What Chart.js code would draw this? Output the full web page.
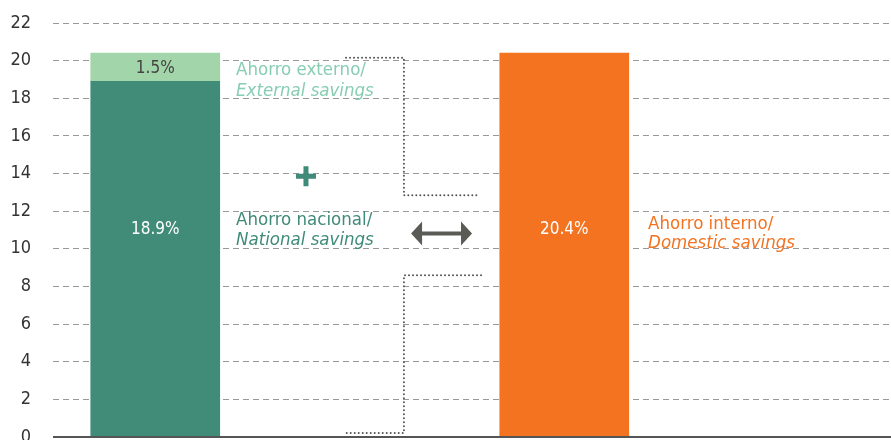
<!DOCTYPE html>
<html>
<head>
<meta charset="utf-8">
<script src="https://cdn.jsdelivr.net/npm/chart.js@4/dist/chart.umd.min.js"></script>
<style>
  html, body { margin: 0; padding: 0; background: #fff; overflow: hidden; }
  #wrap { width: 891px; height: 460px; }
</style>
</head>
<body>
<div id="wrap"><canvas id="chart"></canvas></div>
<script>
// data
const categories = ['Ahorro nacional + externo', 'Ahorro interno'];
const categoryPos = [0.5, 2.5];
const nationalSavings = [18.9, null];
const externalSavings = [1.5, null];
const domesticSavings = [null, 20.4];
const yTicks = [0, 2, 4, 6, 8, 10, 12, 14, 16, 18, 20, 22];

const FONT = "'Liberation Sans Narrow', 'DejaVu Sans Condensed', 'Roboto', sans-serif";

const toPoints = (values) => values
  .map((v, i) => (v === null ? null : { x: categoryPos[i], y: v }))
  .filter((p) => p !== null);

// labels inside the bars (tall bars share one label height)
const valueLabels = {
  id: 'valueLabels',
  afterDatasetsDraw(chart) {
    const ctx = chart.ctx;
    const ys = chart.scales.y;
    ctx.save();
    ctx.font = '17px ' + FONT;
    ctx.textAlign = 'center';
    ctx.textBaseline = 'middle';
    chart.data.datasets.forEach((ds, di) => {
      chart.getDatasetMeta(di).data.forEach((bar, i) => {
        const y = ds.labelAt ? ys.getPixelForValue(ds.labelAt) : (bar.y + bar.base) / 2 + 1;
        ctx.fillStyle = ds.labelColor;
        ctx.fillText(ds.data[i].y.toFixed(1) + '%', bar.x, y);
      });
    });
    ctx.restore();
  }
};

// annotations: texts, plus sign, arrow, dotted brackets, baseline
const annotations = {
  id: 'annotations',
  afterDraw(chart) {
    const ctx = chart.ctx;
    const xs = chart.scales.x;
    const ys = chart.scales.y;
    const X = (v) => xs.getPixelForValue(v);
    const Y = (v) => ys.getPixelForValue(v);
    const area = chart.chartArea;

    ctx.save();
    // baseline
    ctx.strokeStyle = '#555';
    ctx.lineWidth = 2;
    ctx.beginPath();
    ctx.moveTo(area.left, Y(0));
    ctx.lineTo(area.right, Y(0));
    ctx.stroke();

    // texts
    const texts = [
      { t: 'Ahorro externo/', x: 0.895, y: 19.47, c: '#86CDB3', i: false },
      { t: 'External savings', x: 0.895, y: 18.36, c: '#86CDB3', i: true },
      { t: 'Ahorro nacional/', x: 0.895, y: 11.51, c: '#3F8A78', i: false },
      { t: 'National savings', x: 0.895, y: 10.45, c: '#3F8A78', i: true },
      { t: 'Ahorro interno/', x: 2.91, y: 11.33, c: '#F37321', i: false },
      { t: 'Domestic savings', x: 2.91, y: 10.29, c: '#F37321', i: true }
    ];
    ctx.textAlign = 'left';
    ctx.textBaseline = 'middle';
    texts.forEach((o) => {
      ctx.font = (o.i ? 'italic ' : '') + '18.5px ' + FONT;
      ctx.fillStyle = o.c;
      ctx.fillText(o.t, X(o.x), Y(o.y));
    });

    // plus sign
    const px = X(1.237), py = Y(13.85);
    ctx.strokeStyle = '#3F8A78';
    ctx.lineWidth = 5;
    ctx.lineCap = 'butt';
    ctx.beginPath();
    ctx.moveTo(px - 10, py); ctx.lineTo(px + 10, py);
    ctx.moveTo(px, py - 10); ctx.lineTo(px, py + 10);
    ctx.stroke();

    // double arrow
    const ax1 = X(1.751), ax2 = X(2.049), ay = Y(10.82);
    ctx.fillStyle = '#5B5B56';
    ctx.strokeStyle = '#5B5B56';
    ctx.lineWidth = 4;
    ctx.beginPath();
    ctx.moveTo(ax1 + 8, ay); ctx.lineTo(ax2 - 8, ay);
    ctx.stroke();
    ctx.beginPath();
    ctx.moveTo(ax1, ay); ctx.lineTo(ax1 + 11, ay - 12); ctx.lineTo(ax1 + 11, ay + 12); ctx.closePath();
    ctx.moveTo(ax2, ay); ctx.lineTo(ax2 - 11, ay - 12); ctx.lineTo(ax2 - 11, ay + 12); ctx.closePath();
    ctx.fill();

    // dotted brackets
    ctx.strokeStyle = '#555';
    ctx.lineWidth = 2;
    ctx.lineCap = 'round';
    ctx.setLineDash([0, 4]);
    ctx.beginPath();
    ctx.moveTo(X(1.433), Y(20.16));
    ctx.lineTo(X(1.716), Y(20.16));
    ctx.lineTo(X(1.716), Y(12.84));
    ctx.lineTo(X(2.078), Y(12.84));
    ctx.moveTo(X(2.093), Y(8.59));
    ctx.lineTo(X(1.716), Y(8.59));
    ctx.lineTo(X(1.716), Y(0.21));
    ctx.lineTo(X(1.433), Y(0.21));
    ctx.stroke();
    ctx.restore();
  }
};

new Chart(document.getElementById('chart'), {
  type: 'bar',
  data: {
    datasets: [
      { label: 'Ahorro nacional', data: toPoints(nationalSavings), backgroundColor: '#418B79', labelColor: '#ffffff', labelAt: 11.03 },
      { label: 'Ahorro externo', data: toPoints(externalSavings), backgroundColor: '#A3D5AA', labelColor: '#444444' },
      { label: 'Ahorro interno', data: toPoints(domesticSavings), backgroundColor: '#F37321', labelColor: '#ffffff', labelAt: 11.03 }
    ]
  },
  options: {
    responsive: true,
    maintainAspectRatio: false,
    animation: false,
    layout: { padding: { top: 23, bottom: 23, right: 0, left: 0 } },
    datasets: { bar: { barThickness: 129, grouped: false, borderWidth: 0 } },
    plugins: { legend: { display: false }, tooltip: { enabled: false } },
    scales: {
      x: { type: 'linear', min: 0, max: 838 / 204.5, offset: false, display: false },
      y: {
        stacked: true,
        min: 0,
        max: 22,
        afterFit: (scale) => {
          scale.width = 53;
          scale.paddingTop = 0;
          scale.paddingBottom = 0;
        },
        afterBuildTicks: (scale) => { scale.ticks = yTicks.map((v) => ({ value: v })); },
        border: { display: false, dash: [6, 4] },
        grid: { color: '#999', lineWidth: 1, drawTicks: false },
        ticks: { padding: 22, color: '#333', font: { family: FONT, size: 18 } }
      }
    }
  },
  plugins: [valueLabels, annotations]
});
</script>
</body>
</html>
